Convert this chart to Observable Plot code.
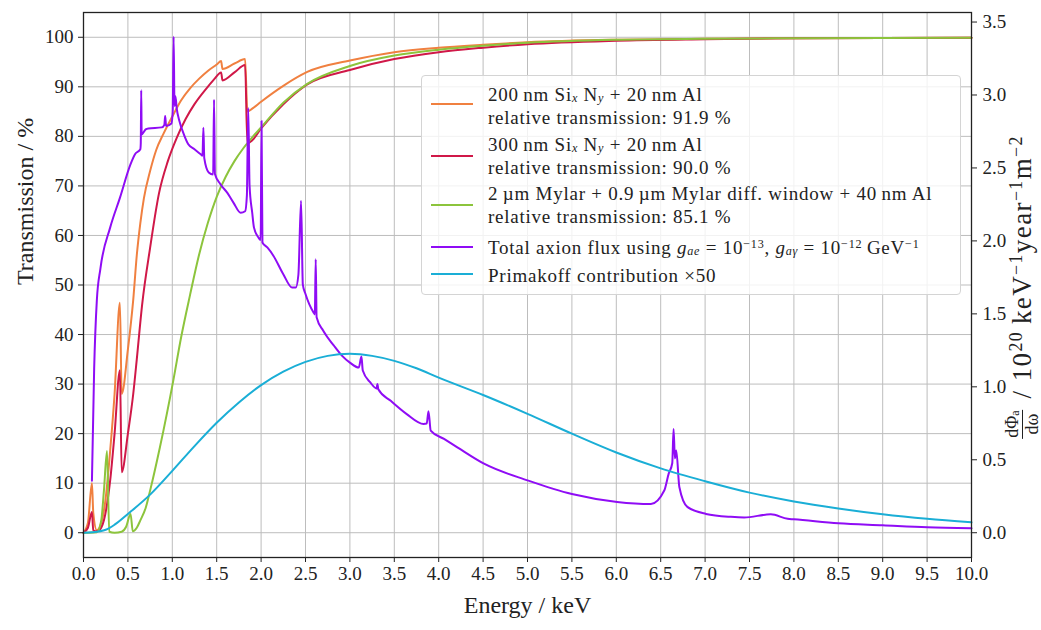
<!DOCTYPE html>
<html><head><meta charset="utf-8">
<script src="https://cdn.jsdelivr.net/npm/d3@7"></script>
<script src="https://cdn.jsdelivr.net/npm/@observablehq/plot@0.6"></script>
<style>
body{margin:0;background:#fff;}
#wrap{position:relative;width:1041px;height:630px;font-family:"Liberation Serif",serif;color:#222;background:#fff;}
#legend{position:absolute;left:421px;top:75px;width:540px;height:220px;background:rgba(255,255,255,0.8);border:1px solid #d4d4d4;border-radius:4px;box-sizing:border-box;}
.sw{position:absolute;left:9px;width:42px;height:0;border-top:2.2px solid;}
.lt{position:absolute;left:66px;font-size:19px;line-height:21px;letter-spacing:0.75px;white-space:nowrap;}
sub{font-size:64%;line-height:0;vertical-align:-0.12em;}
sup{font-size:64%;line-height:0;vertical-align:0.5em;}
#rlab{position:absolute;left:1022px;top:287px;transform:translate(-50%,-50%) rotate(-90deg);white-space:nowrap;font-size:27px;letter-spacing:1.4px;display:flex;align-items:center;}
#rlab sub,#rlab sup{font-size:66%;}
.frac{display:inline-flex;flex-direction:column;align-items:center;font-size:18px;line-height:18px;margin-right:11px;letter-spacing:0;}
.frac .num{border-bottom:1px solid #222;padding:0 1px 1px 1px;}
</style></head><body><div id="wrap"></div>
<script>
// ---------- data ----------
// 200 nm SixNy + 20 nm Al (transmission, %)
const orangeE = [0,0.05,0.095,0.11,0.15,0.2,0.25,0.3,0.35,0.41,0.43,0.5,0.56,0.6,0.64,0.68,0.75,0.82,0.9,1.0,1.1,1.2,1.3,1.4,1.5,1.55,1.565,1.7,1.82,1.845,1.9,2.0,2.25,2.52,3.0,3.5,4.0,4.5,5.0,6.0,7.0,8.0,10.0];
const orangeT = [0,2,10,4,0.5,2,7,16.5,28,46.4,28,37,47,56,62.5,67.5,73,77.3,80.5,84,87.3,89.7,91.6,93.2,94.5,95.2,93.6,94.7,95.6,85.0,85.6,87,90.2,93,95.3,97,97.9,98.5,99.0,99.5,99.7,99.8,99.9];
// 300 nm SixNy + 20 nm Al
const redE = [0,0.05,0.095,0.11,0.15,0.2,0.23,0.3,0.35,0.41,0.43,0.5,0.56,0.6,0.66,0.75,0.85,0.95,1.05,1.15,1.25,1.39,1.47,1.55,1.565,1.7,1.82,1.845,1.9,2.0,2.25,2.52,3.0,3.5,4.0,4.5,5.0,6.0,7.0,8.0,10.0];
const redT = [0,1,4.2,0.5,0.3,1,2.5,10.5,20,32.8,12.2,20,28,35,46,57.5,68.5,75,79.7,83.5,86.5,89.8,91.5,92.9,91.3,92.9,94.4,78.6,79.2,81.6,86.5,90.5,93.4,95.6,97.0,97.9,98.6,99.3,99.6,99.8,99.9];
// 2 um Mylar + 0.9 um Mylar diff. window + 40 nm Al
const greenE = [0,0.15,0.2,0.23,0.265,0.29,0.35,0.43,0.48,0.53,0.555,0.6,0.64,0.7,0.75,0.86,1.01,1.1,1.2,1.3,1.4,1.5,1.6,1.7,1.8,1.9,2.0,2.25,2.52,3.0,3.5,4.0,4.5,5.0,6.0,7.0,8.0,10.0];
const greenT = [0,0.1,2.5,8.5,16.5,0.2,0,0.2,1.2,3.8,0.3,1,2.5,5,8.5,17.2,30.6,39.5,48,56,62.5,67.8,71.8,75,77.6,79.8,81.8,86.8,90.6,94.2,96.3,97.5,98.3,98.9,99.5,99.7,99.8,99.9];
// Total axion flux (10^20 keV^-1 year^-1 m^-2)
const fluxE = [0.095,0.12,0.15,0.19,0.30,0.41,0.53,0.58,0.64,0.645,0.65,0.655,0.70,0.73,0.88,0.91,0.92,0.93,0.99,1.005,1.015,1.025,1.035,1.05,1.08,1.13,1.18,1.25,1.32,1.34,1.35,1.36,1.41,1.46,1.47,1.48,1.54,1.62,1.69,1.77,1.82,1.84,1.855,1.87,1.90,1.92,1.97,1.995,2.005,2.015,2.07,2.14,2.25,2.35,2.39,2.42,2.45,2.47,2.50,2.59,2.605,2.615,2.625,2.70,2.82,2.91,3.0,3.10,3.13,3.145,3.23,3.30,3.31,3.32,3.46,3.64,3.83,3.865,3.885,3.91,4.06,4.21,4.51,5.01,5.50,6.01,6.39,6.54,6.59,6.63,6.645,6.66,6.675,6.71,6.80,7.01,7.29,7.44,7.74,7.93,8.0,8.5,9.0,9.5,10.0];
const fluxV = [0.357,1.122,1.591,1.809,2.091,2.295,2.526,2.594,2.628,2.669,3.033,2.730,2.764,2.771,2.778,2.795,2.856,2.788,2.805,2.890,3.400,2.924,2.992,2.907,2.822,2.730,2.662,2.628,2.594,2.584,2.775,2.567,2.469,2.455,2.968,2.458,2.390,2.329,2.261,2.193,2.203,2.312,2.911,2.380,2.193,2.091,2.023,2.006,2.822,1.989,1.955,1.897,1.772,1.680,1.680,1.768,2.275,1.700,1.636,1.510,1.496,1.874,1.476,1.384,1.282,1.214,1.166,1.132,1.207,1.112,1.030,0.989,1.020,0.983,0.904,0.813,0.745,0.748,0.833,0.700,0.643,0.585,0.473,0.357,0.265,0.211,0.197,0.289,0.405,0.476,0.711,0.510,0.564,0.313,0.177,0.129,0.109,0.105,0.126,0.095,0.092,0.065,0.051,0.037,0.031];
// Primakoff contribution x50 (same flux units)
const primE = [0,0.1,0.25,0.35,0.5,0.75,1.0,1.25,1.5,1.75,2.0,2.25,2.5,2.75,3.0,3.25,3.5,3.75,4.0,4.5,5.0,5.5,6.0,6.5,7.0,7.5,8.0,8.5,9.0,9.5,10.0];
const primV = [0,0.003,0.02,0.055,0.129,0.261,0.424,0.594,0.754,0.893,1.012,1.104,1.171,1.212,1.226,1.212,1.178,1.127,1.063,0.944,0.815,0.679,0.550,0.441,0.353,0.275,0.214,0.166,0.126,0.095,0.071];
// ticks
const xTicks = d3.range(0, 10.001, 0.5);
const yTicks = d3.range(0, 100.001, 10);
const rTicks = [0, 0.5, 1.0, 1.5, 2.0, 2.5, 3.0, 3.5];
// ---------- chart ----------
const K = 29.45; // right-axis (flux) units -> left-axis units
const colors = {orange:"#f08040", red:"#d01848", green:"#8cc43c", purple:"#8f0cf5", cyan:"#1aaed6"};
const rows = (xs, ys, f = 1) => xs.map((x, i) => ({x, y: ys[i] * f}));
const lineOpts = (c, curve = "monotone-x") => ({x: "x", y: "y", stroke: c, strokeWidth: 2, curve});

const chart = Plot.plot({
  width: 1041, height: 630,
  marginLeft: 83, marginRight: 70, marginTop: 12, marginBottom: 73,
  x: {domain: [0, 10]},
  y: {domain: [-5, 105]},
  style: {fontFamily: '"Liberation Serif", serif', fontSize: "19px", color: "#222", background: "transparent", overflow: "visible"},
  marks: [
    Plot.gridX(xTicks, {stroke: "#bdbdbd", strokeOpacity: 1, strokeWidth: 1}),
    Plot.gridY(yTicks, {stroke: "#bdbdbd", strokeOpacity: 1, strokeWidth: 1}),
    Plot.line(rows(orangeE, orangeT), lineOpts(colors.orange)),
    Plot.line(rows(redE, redT), lineOpts(colors.red)),
    Plot.line(rows(greenE, greenT), lineOpts(colors.green)),
    Plot.line(rows(fluxE, fluxV, K), lineOpts(colors.purple)),
    Plot.line(rows(primE, primV, K), lineOpts(colors.cyan)),
    Plot.axisX(xTicks, {tickFormat: d => d.toFixed(1), tickSize: 5, tickPadding: 4, label: null}),
    Plot.axisY(yTicks, {anchor: "left", tickSize: 5, tickPadding: 5, label: null}),
    Plot.axisY(rTicks.map(v => v * K), {anchor: "right", tickFormat: d => (d / K).toFixed(1), tickSize: 5, tickPadding: 6, label: null}),
    Plot.frame({stroke: "#222", strokeWidth: 1.3}),
    Plot.text(["Energy / keV"], {frameAnchor: "bottom", dy: 48, fontSize: 24, lineAnchor: "middle"}),
    Plot.text(["Transmission / %"], {frameAnchor: "left", dx: -58, rotate: -90, fontSize: 24, lineAnchor: "middle"})
  ]
});
const wrap = document.getElementById("wrap");
wrap.appendChild(chart);

// legend (HTML, real text)
const legend = document.createElement("div");
legend.id = "legend";
const entries = [
  {c: colors.orange, sw: 27, lines: [[8, '200\u2009nm Si<sub><i>x</i></sub> N<sub><i>y</i></sub> + 20\u2009nm Al'], [31, 'relative transmission: 91.9 %']]},
  {c: colors.red, sw: 79, lines: [[58, '300\u2009nm Si<sub><i>x</i></sub> N<sub><i>y</i></sub> + 20\u2009nm Al'], [81, 'relative transmission: 90.0 %']]},
  {c: colors.green, sw: 128, lines: [[107, '2\u2009\u00b5m Mylar + 0.9\u2009\u00b5m Mylar diff. window + 40\u2009nm Al'], [130, 'relative transmission: 85.1 %']]},
  {c: colors.purple, sw: 170, lines: [[161, 'Total axion flux using <i>g<sub>ae</sub></i> = 10<sup>\u221213</sup>, <i>g<sub>a\u03b3</sub></i> = 10<sup>\u221212</sup>\u2009GeV<sup>\u22121</sup>']]},
  {c: colors.cyan, sw: 197, lines: [[189, 'Primakoff contribution \u00d750']]}
];
for (const e of entries) {
  const s = document.createElement("div");
  s.className = "sw"; s.style.top = e.sw + "px"; s.style.borderTopColor = e.c;
  legend.appendChild(s);
  for (const [top, html] of e.lines) {
    const t = document.createElement("div");
    t.className = "lt"; t.style.top = top + "px"; t.innerHTML = html;
    legend.appendChild(t);
  }
}
wrap.appendChild(legend);

// right axis label
const rl = document.createElement("div");
rl.id = "rlab";
rl.innerHTML = '<span class="frac"><span class="num">d\u03a6<sub>a</sub></span><span>d\u03c9</span></span><span>/ 10<sup>20</sup>\u2009keV<sup>\u22121</sup>year<sup>\u22121</sup>m<sup>\u22122</sup></span>';
wrap.appendChild(rl);
</script></body></html>
